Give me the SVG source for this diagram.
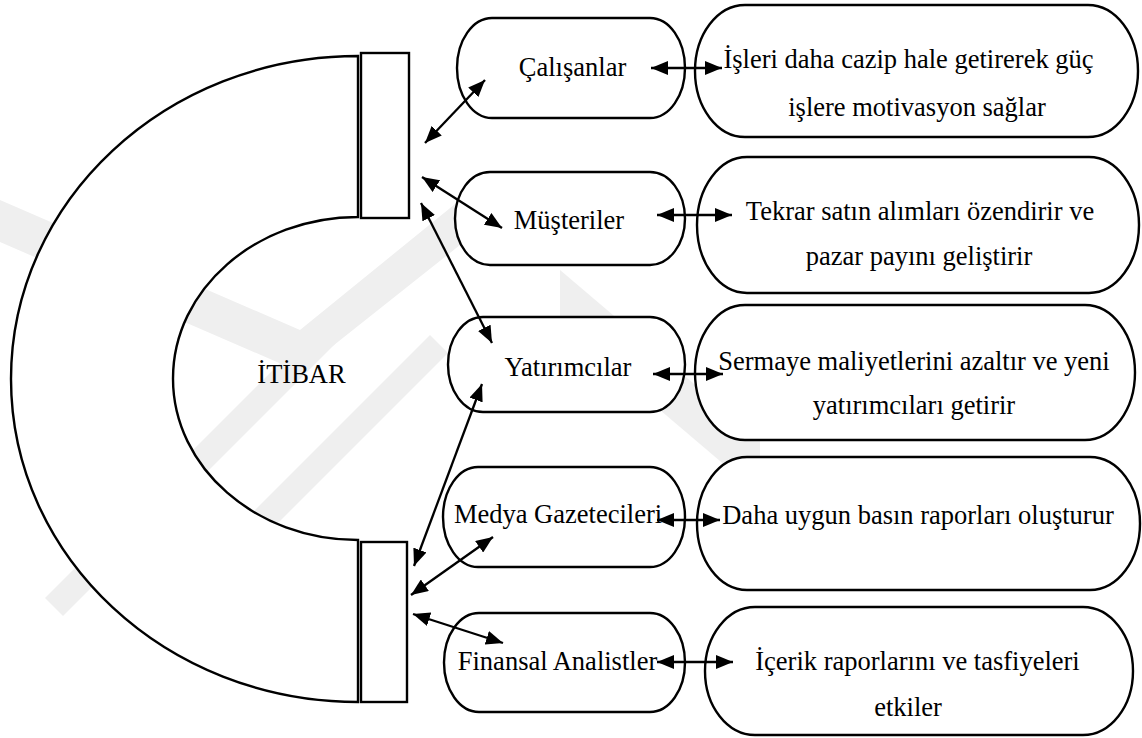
<svg xmlns="http://www.w3.org/2000/svg" width="1142" height="738" viewBox="0 0 1142 738">
  <style>
    .shape { fill: #ffffff; stroke: #000000; stroke-width: 2.4; }
    .label { font-family: "Liberation Serif", "Times New Roman", serif; font-size: 26.5px; fill: #000000; text-anchor: middle; }
    .link { stroke: #000000; stroke-width: 2.3; fill: none; marker-start: url(#head); marker-end: url(#head); }
    .mark { fill: #efefef; }
  </style>
  <defs>
    <marker id="head" viewBox="0 0 17 14" refX="17" refY="7" markerWidth="17" markerHeight="14" markerUnits="userSpaceOnUse" orient="auto-start-reverse">
      <path d="M0,0 L17,7 L0,14 Z" fill="#000000"/>
    </marker>
  </defs>

  <rect width="1142" height="738" fill="#ffffff"/>

  <!-- faint background emblem -->
  <g id="emblem">
    <polygon class="mark" points="0,200 300,330 460,200 460,245 300,372 0,242"/>
    <polygon class="mark" points="45,598 350,293 368,311 63,616"/>
    <polygon class="mark" points="240,525 430,335 448,353 258,543"/>
    <polygon class="mark" points="560,270 760,440 760,495 560,325"/>
  </g>

  <!-- reputation core: C-shaped band (two half-ellipses) with two bars -->
  <g id="itibar">
    <path class="shape" fill="#ffffff" d="M358,56 C166.35,56 11,200.6 11,379 C11,557.4 166.35,702 358,702 L358,540 C255.8,540 173,467.7 173,378.5 C173,289.3 255.8,217 358,217 Z"/>
    <text class="label" x="301.5" y="383">İTİBAR</text>
  </g>
  <g id="bar-top">
    <rect class="shape" x="361" y="53" width="48" height="165"/>
  </g>
  <g id="bar-bottom">
    <rect class="shape" x="361" y="542" width="46" height="160"/>
  </g>

  <!-- stakeholder groups -->
  <g id="calisanlar">
    <rect class="shape" x="457" y="18" width="228" height="100" rx="35" ry="50"/>
    <text class="label" x="572.5" y="76">Çalışanlar</text>
  </g>
  <g id="musteriler">
    <rect class="shape" x="455" y="172" width="230" height="93" rx="35" ry="46.5"/>
    <text class="label" x="569" y="229">Müşteriler</text>
  </g>
  <g id="yatirimcilar">
    <rect class="shape" x="448" y="317" width="237" height="95" rx="35" ry="47.5"/>
    <text class="label" x="568" y="376">Yatırımcılar</text>
  </g>
  <g id="medya">
    <rect class="shape" x="443" y="467" width="242" height="100" rx="35" ry="50"/>
    <text class="label" x="558" y="523">Medya Gazetecileri</text>
  </g>
  <g id="finansal">
    <rect class="shape" x="444" y="613" width="241" height="99" rx="35" ry="49.5"/>
    <text class="label" x="557.5" y="670">Finansal Analistler</text>
  </g>

  <!-- effects -->
  <g id="etki-calisanlar">
    <rect class="shape" x="695" y="5" width="443" height="132" rx="50" ry="66"/>
    <text class="label" x="908.5" y="68">İşleri daha cazip hale getirerek güç</text>
    <text class="label" x="917" y="116">işlere motivasyon sağlar</text>
  </g>
  <g id="etki-musteriler">
    <rect class="shape" x="697" y="157" width="442" height="136" rx="50" ry="68"/>
    <text class="label" x="920" y="220">Tekrar satın alımları özendirir ve</text>
    <text class="label" x="919" y="265">pazar payını geliştirir</text>
  </g>
  <g id="etki-yatirimcilar">
    <rect class="shape" x="695" y="305" width="440" height="135" rx="50" ry="67.5"/>
    <text class="label" x="914" y="370">Sermaye maliyetlerini azaltır ve yeni</text>
    <text class="label" x="914" y="414">yatırımcıları getirir</text>
  </g>
  <g id="etki-medya">
    <rect class="shape" x="697" y="457" width="443" height="133" rx="50" ry="66.5"/>
    <text class="label" x="918" y="524">Daha uygun basın raporları oluşturur</text>
  </g>
  <g id="etki-finansal">
    <rect class="shape" x="705" y="607" width="428" height="128" rx="50" ry="64"/>
    <text class="label" x="917.5" y="670">İçerik raporlarını ve tasfiyeleri</text>
    <text class="label" x="908" y="716">etkiler</text>
  </g>

  <!-- two-way links -->
  <g id="connectors">
    <line class="link" x1="425" y1="143" x2="485" y2="80"/>
    <line class="link" x1="422" y1="177" x2="502" y2="228"/>
    <line class="link" x1="421" y1="203" x2="492" y2="343"/>
    <line class="link" x1="482" y1="384" x2="414" y2="566"/>
    <line class="link" x1="411" y1="595" x2="493" y2="537"/>
    <line class="link" x1="413" y1="614" x2="503" y2="643"/>
    <line class="link" x1="651" y1="68" x2="722" y2="68"/>
    <line class="link" x1="657" y1="215" x2="732" y2="215"/>
    <line class="link" x1="653" y1="374" x2="723" y2="374"/>
    <line class="link" x1="657" y1="520" x2="720" y2="520"/>
    <line class="link" x1="657" y1="662" x2="733" y2="662"/>
  </g>
</svg>
